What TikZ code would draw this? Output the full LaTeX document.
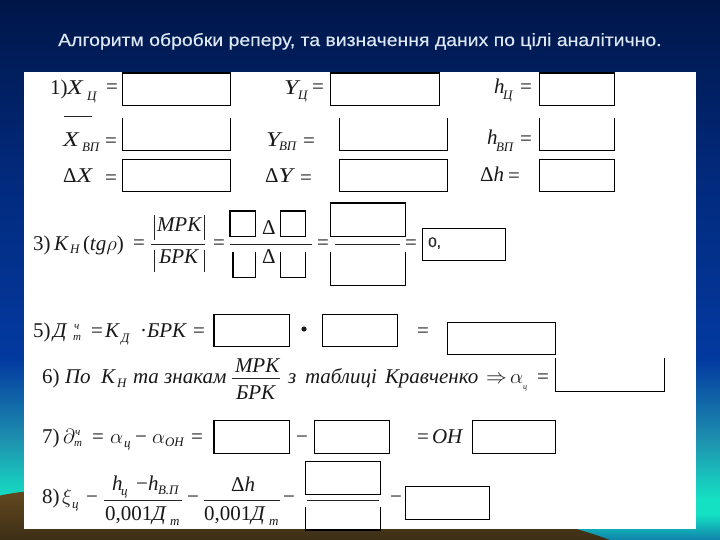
\documentclass[tikz,border=0pt]{standalone}
\usepackage{fontspec}
\setmainfont{Liberation Serif}
\newfontfamily\titlefont[FakeStretch=1.1,FakeBold=0.25]{Liberation Sans}
\definecolor{bga}{RGB}{0,22,72}
\definecolor{bgb}{RGB}{2,42,125}
\definecolor{bgc}{RGB}{3,58,160}
\definecolor{bgd}{RGB}{30,145,175}
\definecolor{bge}{RGB}{20,225,195}
\definecolor{bgf}{RGB}{15,130,170}
\definecolor{brna}{RGB}{112,82,34}
\definecolor{brnb}{RGB}{60,46,22}
\definecolor{titlec}{RGB}{222,232,245}
\newcommand{\ubx}[5]{\node[boxn,minimum width={(#4-#2)*1pt},minimum height={(#5-#3)*1pt}] (#1) at ({(#2+#4)/2},{(#3+#5)/2}) {};}
\newcommand{\fbx}[5]{\ubx{#1}{#2}{#3}{#4}{#5}\draw[boxl] (#1.north west) rectangle (#1.south east);}
\newcommand{\obx}[5]{\ubx{#1}{#2}{#3}{#4}{#5}\draw[boxl] (#1.north west) -- (#1.south west) -- (#1.south east) -- (#1.north east);}
\newcommand{\ft}[3]{\node[ftxt] (#1) at #2 {#3};}
\newcommand{\st}[3]{\node[stxt] (#1) at #2 {#3};}
\newcommand{\tinyt}[3]{\node[ttxt] (#1) at #2 {#3};}
\newcommand{\wdl}[1]{\scalebox{1.22}[1]{\textit{#1}}}
\tikzset{
  boxn/.style={inner sep=0pt,outer sep=0pt},
  boxl/.style={black,line width=1.1pt},
  ftxt/.style={anchor=base west,inner sep=0pt,outer sep=0pt,text=black!90,font=\fontsize{21}{21}\selectfont},
  stxt/.style={anchor=base west,inner sep=0pt,outer sep=0pt,text=black!90,font=\fontsize{13}{13}\selectfont\itshape},
  ttxt/.style={anchor=base west,inner sep=0pt,outer sep=0pt,text=black!90,font=\fontsize{11}{11}\selectfont\itshape},
  fracl/.style={black!85,line width=0.9pt},
  bar/.style={black!85,line width=0.9pt}
}
\begin{document}
\begin{tikzpicture}[x=1pt,y=-1pt]
\useasboundingbox (0,0) rectangle (720,540);
% background
\shade[top color=bga,bottom color=bgb] (0,0) rectangle (720,180.5);
\shade[top color=bgb,bottom color=bgc] (0,180) rectangle (720,360.5);
\shade[top color=bgc,bottom color=bgd] (0,360) rectangle (720,440.5);
\shade[top color=bgd,bottom color=bge] (0,440) rectangle (720,500);
\fill[bge] (0,499) rectangle (720,515);
\shade[top color=bge,bottom color=bgf] (0,514) rectangle (720,540);
\shade[top color=brna,bottom color=brnb] (0,495.5) .. controls (100,475) and (450,480) .. (610,540) -- (0,540) -- cycle;
% panel
\fill[white] (24,72) rectangle (696,529);
% title
\node[anchor=base west,inner sep=0pt,text=titlec,font=\titlefont\fontsize{17.65}{18}\selectfont] (title) at (58,46) {Алгоритм обробки реперу, та визначення даних по цілі аналітично.};
% row 1
\ft{ra}{(50,95)}{1)}
\ft{rax}{(67,95)}{\wdl{X}}
\st{ras}{(87,101)}{Ц}
\ft{rb}{(106,94)}{=}
\fbx{bxa}{122.5}{73}{230.5}{105.5}
\draw[black,line width=1.8pt] (bxa.south west) -- (bxa.south east);
\ft{rc}{(284,95)}{\wdl{Y}}
\st{rcs}{(298,100)}{Ц}
\ft{rd}{(312,94)}{=}
\fbx{bxb}{330.5}{73}{439.5}{105.5}
\draw[black,line width=1.8pt] (bxb.south west) -- (bxb.south east);
\ft{re}{(494,94)}{\textit{h}}
\st{res}{(503,100)}{Ц}
\ft{rf}{(520,94)}{=}
\fbx{bxc}{539.5}{73}{614.5}{105.5}
\draw[black,line width=1.8pt] (bxc.south west) -- (bxc.south east);
% row 2
\coordinate (ola) at (64,116.5); \coordinate (olb) at (92,116.5);
\draw[fracl] (ola) -- (olb);
\ft{sa}{(63,147)}{\wdl{X}}
\st{sas}{(82,152)}{ВП}
\ft{sb}{(105,147.5)}{=}
\obx{bxd}{122.5}{118}{230.5}{150.3}
\ft{sc}{(266,147)}{\wdl{Y}}
\st{scs}{(279,151)}{ВП}
\ft{sd}{(303,147.5)}{=}
\obx{bxe}{339.5}{118}{447.7}{150.3}
\ft{se}{(487,145)}{\textit{h}}
\st{ses}{(496,152)}{ВП}
\ft{sf}{(520,146)}{=}
\obx{bxf}{539.5}{118}{614.5}{150.3}
% row 3
\ft{ta}{(63,183)}{Δ\wdl{X}}
\ft{tb}{(105,185)}{=}
\fbx{bxg}{122.5}{159.3}{230.5}{191.3}
\ft{tc}{(265,183)}{Δ\wdl{Y}}
\ft{td}{(300,185)}{=}
\fbx{bxh}{339.5}{159.3}{447.7}{191.3}
\ft{te}{(480,182)}{Δ\textit{h}}
\ft{tf}{(508,183)}{=}
\fbx{bxi}{539.5}{159.3}{614.5}{191.3}
% item 3
\ft{ua}{(33,250)}{3)}
\ft{uk}{(54,250)}{\textit{К}}
\st{uks}{(70,253)}{Н}
\ft{ut}{(83,250)}{(\textit{tg}$\rho$)}
\ft{ue1}{(133,249)}{=}
\draw[bar] (154,215) -- (154,240);
\draw[bar] (204,215) -- (204,240);
\ft{ub}{(157,232)}{\textit{МРК}}
\draw[bar] (154,250) -- (154,272);
\draw[bar] (204,250) -- (204,272);
\ft{uc}{(159,263)}{\textit{БРК}}
\draw[fracl] (151,244.3) -- (205,244.3);
\ft{ud}{(213,249)}{=}
\fbx{bxj}{230}{211}{255.7}{236.3}
\ft{ue}{(262,234)}{Δ}
\fbx{bxk}{280.3}{211}{305.7}{236.3}
\draw[fracl] (230,244.3) -- (312,244.3);
\obx{bxl}{233}{252.3}{255.7}{277.3}
\ft{uf}{(262,263)}{Δ}
\obx{bxm}{280.3}{252.3}{305.7}{277.3}
\ft{ug}{(317,249)}{=}
\fbx{bxn}{330.3}{203}{405.3}{236.3}
\draw[fracl] (335,244.3) -- (400,244.3);
\obx{bxo}{330.3}{252}{405.3}{285.3}
\ft{uh}{(405,249)}{=}
\fbx{bxp}{422.3}{228.3}{505.7}{260.3}
\node[anchor=base west,inner sep=0pt,text=black!85,font=\titlefont\fontsize{14}{14}\selectfont] (ui) at (428,247) {0,};
% item 5
\ft{va}{(33,337)}{5)}
\ft{vd}{(53,337)}{\textit{Д}}
\tinyt{vda}{(74,329)}{ч}
\tinyt{vdb}{(73,340)}{т}
\ft{ve}{(91,337)}{=}
\ft{vk}{(105,337)}{\textit{К}}
\st{vks}{(121,342)}{Д}
\ft{vdt}{(140,337)}{·}
\ft{vbr}{(147,337)}{\textit{БРК}}
\ft{vf}{(193,337)}{=}
\fbx{bxq}{214}{314.3}{289.7}{346.7}
\fill[black!90] (304,329) circle (2.6);
\fbx{bxr}{322.3}{314.3}{397.3}{346.7}
\ft{vb}{(417,337.5)}{=}
\fbx{bxs}{447.3}{322.3}{555.3}{354.3}
% item 6
\ft{wa}{(42,383)}{6)}
\ft{wp}{(65,383)}{\textit{По}}
\ft{wk}{(101,383)}{\textit{К}}
\st{wks}{(117,387)}{Н}
\ft{wz}{(133,383)}{\textit{та знакам}}
\ft{wb}{(235,372)}{\textit{МРК}}
\draw[fracl] (232,378) -- (280,378);
\ft{wc}{(236,399)}{\textit{БРК}}
\ft{wd}{(288,383)}{\textit{з}}
\ft{wg}{(305,383)}{\textit{таблиці}}
\ft{wh}{(385,383)}{\textit{Кравченко}}
\ft{we}{(486,383)}{$\Rightarrow$}
\ft{wl}{(510,383)}{$\alpha$}
\node[ttxt,font=\fontsize{8}{8}\selectfont\itshape] (wls) at (523,389) {ц};
\ft{wf}{(537,383)}{=}
\obx{bxt}{555.3}{358.3}{664.7}{391.3}
% item 7
\ft{xa}{(42,443)}{7)}
\ft{xd}{(63,443)}{$\partial$}
\tinyt{xda}{(75,435)}{ч}
\tinyt{xdb}{(74,446)}{т}
\ft{xe}{(92,443)}{=}
\ft{xl}{(110,443)}{$\alpha$}
\st{xls}{(124,447)}{ц}
\ft{xm}{(135,443)}{−}
\ft{xo}{(152,443)}{$\alpha$}
\st{xos}{(165,446)}{ОН}
\ft{xf}{(191,443)}{=}
\fbx{bxu}{214}{420.3}{289.7}{453.3}
\ft{xb}{(296,443)}{−}
\fbx{bxv}{314.3}{420.3}{389.3}{453.3}
\ft{xg}{(417,443)}{=}
\ft{xc}{(432,443)}{\textit{ОН}}
\fbx{bxw}{472.3}{420.3}{555.3}{453.3}
% item 8
\ft{ya}{(42,503)}{8)}
\ft{yx}{(62,503)}{$\xi$}
\st{yxs}{(72,508)}{ц}
\ft{yb}{(86,503)}{−}
\ft{ych}{(112,490)}{\textit{h}}
\st{ycs}{(121,495)}{ц}
\ft{ycm}{(136,490)}{−}
\ft{ych2}{(148,490)}{\textit{h}}
\st{ycs2}{(158,494)}{В.П}
\draw[fracl] (104,500) -- (182,500);
\ft{yd}{(105,520)}{0,001\textit{Д}}
\st{yds}{(170,525)}{т}
\ft{ye}{(187,503)}{−}
\ft{yf}{(231,491)}{Δ\textit{h}}
\draw[fracl] (204,500) -- (280,500);
\ft{yg}{(204,520)}{0,001\textit{Д}}
\st{ygs}{(269,525)}{т}
\ft{yh}{(283,503)}{−}
\fbx{bxx}{305.3}{461.3}{380.3}{494.3}
\draw[fracl] (306.7,500) -- (379,500);
\obx{bxy}{305.3}{507.3}{380.3}{530}
\ft{yi}{(390,503)}{−}
\fbx{bxz}{405.3}{486.3}{489.3}{519.3}
\end{tikzpicture}
\end{document}
